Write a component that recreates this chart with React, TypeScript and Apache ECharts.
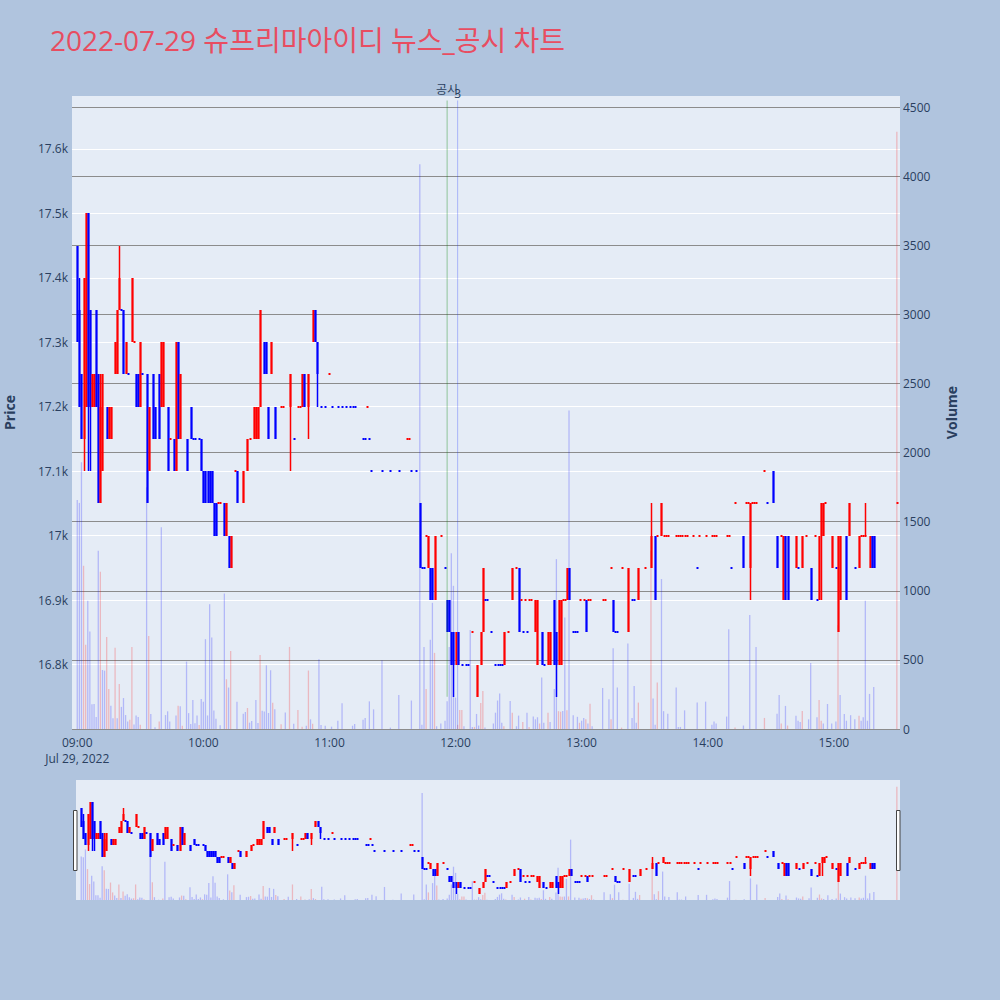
import React, { useEffect, useRef } from 'react';
import * as echarts from 'echarts';

const TITLE = '2022-07-29 슈프리마아이디 뉴스_공시 차트';
const DATE_LABEL = 'Jul 29, 2022';
const HOUR_LABELS = ['09:00', '10:00', '11:00', '12:00', '13:00', '14:00', '15:00'];
const FIRST_MINUTE = 8 * 60 + 58; // first category 08:58
const CATEGORY_COUNT = 394; // 08:58 .. 15:31
const OFFSET = 2; // index of 09:00

// [minute from 09:00, open, close, low, high, sign (1 up / -1 down)]
const candles: number[][] = [
  [0, 17450, 17300, 17300, 17450, -1], [1, 17350, 17200, 17200, 17400, -1], [2, 17250, 17150, 17150, 17250, -1],
  [3, 17150, 17400, 17100, 17400, 1], [4, 17200, 17500, 17200, 17500, 1], [5, 17500, 17200, 17100, 17500, -1],
  [6, 17350, 17200, 17100, 17350, -1], [7, 17200, 17250, 17200, 17250, 1], [8, 17200, 17250, 17200, 17250, 1],
  [9, 17350, 17200, 17200, 17350, -1], [10, 17250, 17050, 17050, 17250, -1], [11, 17050, 17200, 17050, 17250, 1],
  [12, 17100, 17250, 17100, 17250, 1], [14, 17200, 17150, 17150, 17200, -1], [15, 17150, 17200, 17150, 17200, 1],
  [16, 17150, 17200, 17150, 17200, 1], [18, 17250, 17300, 17250, 17300, 1], [19, 17250, 17350, 17250, 17350, 1],
  [20, 17350, 17400, 17350, 17450, 1], [22, 17350, 17250, 17250, 17350, -1], [23, 17250, 17300, 17250, 17300, 1],
  [26, 17300, 17400, 17300, 17400, 1], [28, 17250, 17200, 17200, 17250, -1], [29, 17250, 17200, 17200, 17250, -1],
  [30, 17200, 17300, 17200, 17300, 1], [33, 17250, 17050, 17050, 17250, -1], [34, 17100, 17200, 17100, 17200, 1],
  [36, 17250, 17150, 17150, 17250, -1], [37, 17200, 17150, 17150, 17200, -1], [39, 17250, 17150, 17150, 17250, -1],
  [40, 17200, 17300, 17200, 17300, 1], [41, 17200, 17300, 17200, 17300, 1], [43, 17200, 17100, 17100, 17200, -1],
  [46, 17150, 17100, 17100, 17150, -1], [47, 17100, 17300, 17100, 17300, 1], [48, 17300, 17150, 17150, 17300, -1],
  [49, 17150, 17250, 17150, 17250, 1], [52, 17150, 17100, 17100, 17150, -1], [54, 17200, 17150, 17150, 17200, -1],
  [59, 17150, 17100, 17100, 17150, -1], [60, 17100, 17050, 17050, 17100, -1], [61, 17100, 17050, 17050, 17100, -1],
  [62, 17100, 17050, 17050, 17100, -1], [63, 17100, 17050, 17050, 17100, -1], [64, 17100, 17050, 17050, 17100, -1],
  [65, 17050, 17000, 17000, 17050, -1], [66, 17050, 17000, 17000, 17050, -1], [70, 17050, 17000, 17000, 17050, -1],
  [71, 17000, 17050, 17000, 17050, 1], [72, 17000, 16950, 16950, 17000, -1], [73, 16950, 17000, 16950, 17000, 1],
  [76, 17100, 17050, 17050, 17100, -1], [79, 17050, 17100, 17050, 17100, 1], [81, 17100, 17150, 17100, 17150, 1],
  [84, 17150, 17200, 17150, 17200, 1], [85, 17150, 17200, 17150, 17200, 1], [86, 17150, 17200, 17150, 17200, 1],
  [87, 17200, 17350, 17200, 17350, 1], [89, 17300, 17250, 17250, 17300, -1], [90, 17300, 17250, 17250, 17300, -1],
  [91, 17200, 17150, 17150, 17200, -1], [92, 17250, 17300, 17250, 17300, 1], [94, 17200, 17150, 17150, 17200, -1],
  [101, 17200, 17250, 17100, 17250, 1], [107, 17200, 17250, 17200, 17250, 1], [108, 17250, 17200, 17200, 17250, -1],
  [110, 17200, 17250, 17150, 17250, 1], [112, 17300, 17350, 17300, 17350, 1], [113, 17350, 17300, 17300, 17350, -1],
  [114, 17300, 17250, 17200, 17300, -1],
  [163, 17050, 16950, 16950, 17050, -1], [167, 16950, 17000, 16950, 17000, 1], [168, 16950, 16900, 16900, 16950, -1],
  [169, 16950, 16900, 16900, 16950, -1], [170, 16900, 17000, 16900, 17000, 1], [176, 16900, 16850, 16850, 16900, -1],
  [177, 16900, 16850, 16850, 16900, -1], [178, 16850, 16800, 16800, 16850, -1], [179, 16850, 16800, 16750, 16850, -1],
  [180, 16800, 16850, 16800, 16850, 1], [181, 16850, 16800, 16800, 16850, -1], [190, 16750, 16800, 16750, 16800, 1],
  [192, 16800, 16850, 16800, 16850, 1], [193, 16850, 16950, 16850, 16950, 1], [203, 16800, 16850, 16800, 16850, 1],
  [207, 16900, 16950, 16900, 16950, 1], [210, 16950, 16850, 16850, 16950, -1], [218, 16850, 16900, 16850, 16900, 1],
  [219, 16800, 16900, 16800, 16900, 1], [221, 16850, 16800, 16800, 16850, -1], [224, 16800, 16850, 16800, 16850, 1],
  [225, 16800, 16850, 16800, 16850, 1], [227, 16900, 16800, 16800, 16900, -1], [228, 16850, 16800, 16750, 16850, -1],
  [229, 16800, 16900, 16800, 16900, 1], [230, 16800, 16900, 16800, 16900, 1], [233, 16900, 16950, 16900, 16950, 1],
  [234, 16950, 16900, 16900, 16950, -1], [242, 16900, 16850, 16850, 16900, -1], [255, 16900, 16850, 16850, 16900, -1],
  [262, 16850, 16950, 16850, 16950, 1], [267, 16900, 16950, 16900, 16950, 1], [273, 16950, 17000, 16950, 17050, 1],
  [275, 17000, 16900, 16900, 17000, -1], [278, 17000, 17050, 17000, 17050, 1], [317, 17000, 16950, 16950, 17000, -1],
  [320, 16950, 17050, 16900, 17050, 1], [331, 17100, 17050, 17050, 17100, -1], [333, 17000, 16950, 16950, 17000, -1],
  [336, 16900, 17000, 16900, 17000, 1], [337, 17000, 16900, 16900, 17000, -1], [338, 17000, 16900, 16900, 17000, -1],
  [342, 16950, 17000, 16950, 17000, 1], [345, 16950, 17000, 16950, 17000, 1], [349, 16950, 16900, 16900, 16950, -1],
  [353, 16900, 17000, 16900, 17000, 1], [354, 17000, 17050, 16900, 17050, 1], [355, 17000, 17050, 17000, 17050, 1],
  [359, 16950, 17000, 16950, 17000, 1], [362, 16850, 17000, 16850, 17000, 1], [363, 16900, 17000, 16900, 17000, 1],
  [366, 17000, 16900, 16900, 17000, -1], [367, 17000, 17050, 17000, 17050, 1], [372, 16950, 17000, 16950, 17000, 1],
  [375, 17000, 17000, 17000, 17050, 1], [377, 16950, 17000, 16950, 17000, 1], [378, 17000, 16950, 16950, 17000, -1],
  [379, 17000, 16950, 16950, 17000, -1],
];

// flat minutes (open = close = low = high): [minute, price, sign]
const flats: number[][] = [
  [21, 17350, -1], [24, 17250, -1], [27, 17300, 1], [31, 17250, -1], [44, 17150, 1], [55, 17150, -1],
  [56, 17150, -1], [58, 17150, -1], [67, 17050, 1], [68, 17050, 1], [75, 17100, 1], [82, 17150, 1],
  [97, 17200, 1], [98, 17200, 1], [103, 17150, -1], [105, 17200, 1], [106, 17200, 1],
  [116, 17200, -1], [118, 17200, -1], [120, 17250, 1], [121, 17200, -1], [124, 17200, -1], [126, 17200, -1],
  [128, 17200, -1], [130, 17200, -1], [131, 17200, -1], [132, 17200, -1], [136, 17150, -1], [137, 17150, -1],
  [138, 17200, 1], [139, 17150, -1], [140, 17100, -1], [145, 17100, -1], [149, 17100, -1], [153, 17100, -1],
  [157, 17150, 1], [158, 17150, 1], [159, 17100, -1], [161, 17100, -1], [164, 16950, -1], [165, 16950, -1],
  [166, 17000, 1], [173, 17000, 1], [175, 16950, -1], [183, 16800, -1], [185, 16800, -1], [186, 16800, -1],
  [188, 16850, 1], [194, 16900, -1], [195, 16900, -1], [197, 16850, -1], [199, 16800, -1], [200, 16800, -1],
  [201, 16800, -1], [202, 16800, -1], [205, 16850, 1], [209, 16950, 1], [211, 16900, 1], [212, 16850, -1],
  [213, 16900, 1], [214, 16850, -1], [215, 16900, 1], [216, 16900, 1], [222, 16800, -1], [231, 16900, 1],
  [232, 16900, 1], [236, 16850, -1], [237, 16850, -1], [238, 16850, -1], [239, 16900, 1], [241, 16900, 1],
  [243, 16900, 1], [244, 16900, 1], [250, 16900, 1], [251, 16900, 1], [254, 16950, 1], [256, 16850, -1],
  [257, 16850, -1], [259, 16950, 1], [264, 16900, -1], [265, 16900, -1], [270, 16950, 1], [276, 17000, 1],
  [279, 17000, 1], [280, 17000, 1], [281, 17000, 1], [285, 17000, 1], [286, 17000, 1], [287, 17000, 1],
  [288, 17000, 1], [289, 17000, 1], [290, 17000, 1], [293, 17000, 1], [295, 16950, -1], [296, 17000, 1],
  [299, 17000, 1], [302, 17000, 1], [303, 17000, 1], [304, 17000, 1], [309, 17000, 1], [310, 17000, 1],
  [311, 16950, -1], [313, 17050, 1], [318, 17050, 1], [319, 17050, 1], [321, 17050, 1], [322, 17050, 1],
  [323, 17050, 1], [327, 17100, 1], [328, 17050, -1], [335, 17000, 1], [343, 16950, -1], [347, 17000, 1],
  [351, 17000, 1], [352, 16900, -1], [356, 17050, 1], [361, 16950, -1], [370, 16950, -1], [373, 17000, 1],
  [374, 17000, 1], [390, 17050, 1],
];

// [minute from 09:00, volume, sign]
const volumes: number[][] = [
  [0, 1657, -1], [1, 1636, -1], [2, 1930, -1], [3, 1181, 1], [4, 609, 1], [5, 928, -1], [6, 705, -1],
  [7, 179, -1], [8, 180, -1], [9, 87, -1], [10, 1290, -1], [11, 1138, 1], [12, 427, -1], [13, 422, -1],
  [14, 666, 1], [15, 290, 1], [16, 169, -1], [17, 77, -1], [18, 588, 1], [19, 77, -1], [20, 326, 1],
  [21, 160, -1], [22, 224, -1], [23, 101, -1], [24, 55, -1], [25, 67, 1], [26, 594, 1], [27, 33, -1],
  [28, 98, -1], [29, 86, -1], [30, 30, 1], [33, 1749, -1], [34, 673, 1], [35, 109, -1], [37, 12, -1],
  [39, 55, 1], [40, 1459, -1], [42, 101, -1], [43, 128, -1], [44, 55, -1], [47, 98, -1], [48, 169, 1],
  [49, 164, -1], [50, 24, 1], [52, 488, -1], [53, 115, -1], [54, 36, -1], [55, 209, -1], [56, 41, -1],
  [57, 98, -1], [58, 29, 1], [59, 217, -1], [60, 198, -1], [61, 650, -1], [62, 98, -1], [63, 903, -1],
  [64, 662, -1], [65, 133, -1], [66, 74, -1], [68, 27, -1], [70, 980, -1], [71, 360, 1], [72, 300, -1],
  [73, 565, 1], [76, 198, -1], [79, 111, -1], [80, 123, -1], [81, 152, 1], [82, 46, -1], [83, 58, -1],
  [85, 209, -1], [86, 43, -1], [87, 536, 1], [88, 132, -1], [89, 127, -1], [90, 461, -1], [91, 116, -1],
  [92, 425, -1], [93, 190, 1], [94, 142, -1], [97, 34, 1], [99, 120, -1], [101, 594, 1], [103, 38, -1],
  [105, 137, 1], [107, 17, 1], [109, 24, -1], [110, 423, 1], [111, 70, -1], [112, 38, 1], [115, 505, -1],
  [116, 29, -1], [118, 24, -1], [121, 17, -1], [124, 60, -1], [126, 186, -1], [131, 24, -1], [132, 36, -1],
  [136, 67, -1], [137, 79, -1], [139, 200, -1], [141, 142, -1], [145, 498, -1], [149, 10, -1], [153, 246, -1],
  [159, 206, -1], [163, 4087, -1], [164, 30, -1], [165, 594, -1], [166, 290, 1], [168, 645, -1], [169, 913, -1],
  [170, 551, 1], [171, 20, -1], [173, 40, -1], [175, 60, -1], [176, 200, -1], [177, 594, -1], [178, 1271, -1],
  [179, 1036, -1], [180, 227, -1], [181, 30, 1], [182, 138, 1], [183, 138, 1], [184, 20, -1], [187, 717, -1],
  [188, 15, -1], [189, 15, 1], [190, 109, -1], [191, 25, -1], [192, 188, 1], [193, 275, 1], [194, 10, -1],
  [198, 40, -1], [199, 118, -1], [200, 206, -1], [201, 256, -1], [202, 46, -1], [203, 20, 1], [206, 203, -1],
  [207, 118, 1], [209, 20, -1], [210, 97, -1], [212, 50, 1], [214, 118, -1], [215, 15, 1], [217, 90, -1],
  [218, 70, -1], [219, 85, -1], [220, 40, 1], [221, 372, -1], [222, 45, -1], [224, 118, 1], [225, 50, -1],
  [227, 290, -1], [228, 1229, -1], [229, 129, 1], [230, 125, 1], [231, 130, -1], [232, 807, -1], [233, 135, 1],
  [234, 2304, -1], [236, 100, -1], [238, 88, -1], [239, 45, 1], [240, 60, -1], [241, 80, -1], [242, 70, 1],
  [243, 40, -1], [244, 183, 1], [245, 20, -1], [250, 297, -1], [253, 215, -1], [254, 70, 1], [255, 585, -1],
  [257, 300, -1], [259, 10, 1], [262, 618, -1], [264, 80, -1], [265, 312, -1], [266, 45, -1], [267, 191, 1],
  [273, 1290, 1], [274, 220, -1], [275, 30, -1], [276, 336, 1], [278, 1085, -1], [279, 129, -1], [281, 111, -1],
  [285, 300, -1], [286, 15, -1], [287, 15, -1], [289, 135, -1], [295, 192, -1], [299, 198, -1], [302, 30, -1],
  [303, 55, -1], [304, 40, -1], [309, 90, -1], [310, 722, -1], [313, 10, 1], [317, 25, -1], [320, 824, -1],
  [323, 594, -1], [327, 80, 1], [333, 110, -1], [334, 246, -1], [335, 40, 1], [337, 167, -1], [338, 25, 1],
  [342, 95, -1], [343, 60, -1], [344, 50, -1], [345, 130, 1], [348, 70, -1], [349, 478, -1], [352, 85, -1],
  [353, 210, 1], [354, 60, 1], [355, 40, -1], [357, 181, -1], [359, 40, -1], [361, 55, -1], [362, 750, 1],
  [363, 246, -1], [365, 109, -1], [366, 60, -1], [368, 100, -1], [370, 70, -1], [372, 95, 1], [373, 60, -1],
  [374, 85, -1], [375, 928, -1], [376, 60, -1], [377, 254, -1], [379, 304, -1], [390, 4321, 1],
];

// news / disclosure markers: minute from 09:00, label, line top and bottom prices
const noticeMinutes = [176, 181];
const noticeLabels = ['공시', '3'];
const noticeTops = [17675, 17675];
const noticeBottoms = [16750, 16700];
// styles for the markers (not data)
const NOTICE_COLORS = ['rgba(0,128,0,0.38)', 'rgba(30,50,255,0.3)'];
const NOTICE_LABEL_RAISE = [11, 7];

const PRICE_MIN = 16700;
const PRICE_MAX = 17682;
const VOL_MAX = 4580;

const UP = '#ff0000';
const DOWN = '#0000ff';
const UP_VOL = 'rgba(255,0,0,0.22)';
const DOWN_VOL = 'rgba(0,0,255,0.22)';
const TEXT = '#2a3f5f';
const FONT = '"Open Sans", "Noto Sans CJK KR", sans-serif';

function pad(n: number) {
  return n < 10 ? '0' + n : '' + n;
}

const categories: string[] = [];
for (let i = 0; i < CATEGORY_COUNT; i++) {
  const t = FIRST_MINUTE + i;
  categories.push(pad(Math.floor(t / 60)) + ':' + pad(t % 60));
}

function candleRows() {
  const all = candles.map((c) => c.slice());
  flats.forEach(([m, p, s]) => all.push([m, p, p, p, p, s]));
  all.sort((a, b) => a[0] - b[0]);
  return all.map(([m, o, c, l, h, s]) => [m + OFFSET, o, c, l, h, s]);
}

function volumeRows(sign: number) {
  return volumes.filter((v) => v[2] === sign).map(([m, v]) => [m + OFFSET, v]);
}

function priceLabel(v: number) {
  const k = v / 1000;
  return (Math.abs(k - Math.round(k)) < 1e-9 ? String(Math.round(k)) : k.toFixed(1)) + 'k';
}

function renderCandle(_params: any, api: any) {
  const x = api.value(0);
  const o = api.value(1);
  const c = api.value(2);
  const l = api.value(3);
  const h = api.value(4);
  const s = api.value(5);
  const col = s > 0 ? UP : DOWN;
  const pO = api.coord([x, o]);
  const pC = api.coord([x, c]);
  const pL = api.coord([x, l]);
  const pH = api.coord([x, h]);
  const cx = Math.round(pO[0]);
  const top = Math.round(Math.min(pO[1], pC[1]));
  const bot = Math.round(Math.max(pO[1], pC[1]));
  const bodyH = Math.max(bot - top, 2);
  const bodyTop = bot - top < 2 ? top - 1 : top;
  const wTop = Math.round(pH[1]);
  const wBot = Math.round(pL[1]);
  const children: any[] = [];
  if (wBot - wTop >= 1) {
    children.push({
      type: 'rect',
      shape: { x: cx - 0.25, y: wTop, width: 1.5, height: wBot - wTop },
      style: { fill: col },
    });
  }
  children.push({
    type: 'rect',
    shape: { x: cx - 0.5, y: bodyTop, width: 2, height: bodyH },
    style: { fill: col },
  });
  return { type: 'group', children };
}

function candleSeries(xi: number, yi: number) {
  return {
    type: 'custom',
    xAxisIndex: xi,
    yAxisIndex: yi,
    data: candleRows(),
    encode: { x: 0, y: [1, 2, 3, 4] },
    renderItem: renderCandle,
    silent: true,
    clip: true,
    z: 3,
  };
}

function volumeSeries(sign: number, xi: number, yi: number) {
  return {
    type: 'bar',
    xAxisIndex: xi,
    yAxisIndex: yi,
    data: volumeRows(sign),
    barWidth: 1.3,
    barGap: '-100%',
    silent: true,
    itemStyle: { color: sign > 0 ? UP_VOL : DOWN_VOL },
    z: 2,
  };
}

export default function App() {
  const ref = useRef<HTMLDivElement>(null);

  useEffect(() => {
    document.body.style.margin = '0';
    if (!ref.current) return;
    const chart = echarts.init(ref.current, undefined, { renderer: 'svg' });

    const baseGraphics: any[] = [
      {
        type: 'text',
        x: 50,
        y: 40,
        style: {
          text: TITLE,
          fill: '#e84d61',
          font: '28px ' + FONT,
          verticalAlign: 'middle',
        },
      },
      {
        type: 'rect',
        shape: { x: 73.5, y: 810.5, width: 3.5, height: 60 },
        style: { fill: '#ffffff', stroke: '#444444', lineWidth: 1 },
        z: 100,
      },
      {
        type: 'rect',
        shape: { x: 896.5, y: 810.5, width: 3.5, height: 60 },
        style: { fill: '#ffffff', stroke: '#444444', lineWidth: 1 },
        z: 100,
      },
    ];

    const noticeSeries = noticeMinutes.map((m, i) => ({
      type: 'line',
      xAxisIndex: 0,
      yAxisIndex: 0,
      data: [
        [m + OFFSET, noticeBottoms[i]],
        [m + OFFSET, noticeTops[i]],
      ],
      symbol: 'none',
      showSymbol: false,
      silent: true,
      clip: false,
      lineStyle: { color: NOTICE_COLORS[i], width: 1 },
      z: 5,
    }));

    const option: any = {
      animation: false,
      backgroundColor: '#b0c4de',
      textStyle: { fontFamily: FONT },
      graphic: baseGraphics,
      grid: [
        {
          left: 72, right: 100, top: 96, height: 633, show: true, backgroundColor: '#e5ecf6', borderWidth: 0,
          containLabel: false, outerBoundsMode: 'none',
        },
        {
          left: 76, right: 100, top: 780, height: 120, show: true, backgroundColor: '#e5ecf6', borderWidth: 0,
          containLabel: false, outerBoundsMode: 'none',
        },
      ],
      xAxis: [
        {
          type: 'category',
          gridIndex: 0,
          data: categories,
          boundaryGap: true,
          axisLine: { show: false },
          axisTick: { show: false },
          splitLine: { show: false },
          axisLabel: {
            interval: (_i: number, v: string) => HOUR_LABELS.indexOf(v) >= 0,
            formatter: (v: string) => (v === HOUR_LABELS[0] ? v + '\n' + DATE_LABEL : v),
            color: TEXT,
            fontFamily: FONT,
            fontSize: 12,
            lineHeight: 16,
            margin: 5,
          },
        },
        {
          type: 'category',
          gridIndex: 1,
          data: categories,
          boundaryGap: true,
          axisLine: { show: false },
          axisTick: { show: false },
          axisLabel: { show: false },
          splitLine: { show: false },
        },
      ],
      yAxis: [
        {
          type: 'value',
          gridIndex: 0,
          position: 'left',
          min: PRICE_MIN,
          max: PRICE_MAX,
          minInterval: 100,
          maxInterval: 100,
          axisLine: { show: false },
          axisTick: { show: false },
          splitLine: { show: true, showMaxLine: false, lineStyle: { color: '#ffffff', width: 1 } },
          axisLabel: {
            formatter: priceLabel,
            color: TEXT,
            fontFamily: FONT,
            fontSize: 12,
            margin: 4,
            showMinLabel: false,
            showMaxLabel: false,
          },
          name: 'Price',
          nameLocation: 'middle',
          nameRotate: 90,
          nameGap: 56,
          nameTextStyle: { color: TEXT, fontFamily: FONT, fontSize: 14, fontWeight: 'bold' },
        },
        {
          type: 'value',
          gridIndex: 0,
          position: 'right',
          min: 0,
          max: VOL_MAX,
          minInterval: 500,
          maxInterval: 500,
          axisLine: { show: false },
          axisTick: { show: false },
          splitLine: { show: true, showMaxLine: false, lineStyle: { color: '#8c8c8c', width: 1 } },
          axisLabel: {
            formatter: (v: number) => String(v),
            color: TEXT,
            fontFamily: FONT,
            fontSize: 12,
            margin: 3,
            showMaxLabel: false,
          },
          name: 'Volume',
          nameLocation: 'middle',
          nameRotate: 90,
          nameGap: 44,
          nameTextStyle: { color: TEXT, fontFamily: FONT, fontSize: 14, fontWeight: 'bold' },
        },
        { type: 'value', gridIndex: 1, min: PRICE_MIN, max: PRICE_MAX, show: false, splitLine: { show: false } },
        { type: 'value', gridIndex: 1, min: 0, max: VOL_MAX, show: false, splitLine: { show: false } },
      ],
      series: [
        volumeSeries(-1, 0, 1),
        volumeSeries(1, 0, 1),
        candleSeries(0, 0),
        ...noticeSeries,
        volumeSeries(-1, 1, 3),
        volumeSeries(1, 1, 3),
        candleSeries(1, 2),
      ],
    };

    chart.setOption(option);

    const labels = noticeMinutes.map((m, i) => {
      const p = chart.convertToPixel({ xAxisIndex: 0, yAxisIndex: 0 }, [m + OFFSET, noticeTops[i]]) as number[];
      return {
        type: 'text',
        x: p[0],
        y: p[1] - NOTICE_LABEL_RAISE[i],
        z: 50,
        style: {
          text: noticeLabels[i],
          fill: TEXT,
          font: '12px ' + FONT,
          align: 'center',
          verticalAlign: 'middle',
        },
      };
    });
    chart.setOption({ graphic: [...baseGraphics, ...labels] });

    return () => {
      chart.dispose();
    };
  }, []);

  return <div ref={ref} style={{ width: 1000, height: 1000 }} />;
}
